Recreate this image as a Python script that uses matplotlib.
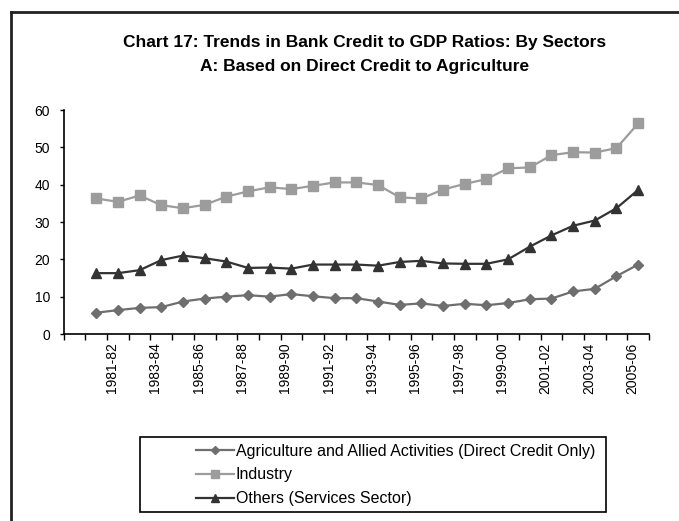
import matplotlib.pyplot as plt
import matplotlib.transforms as mtransforms
from matplotlib.lines import Line2D
from matplotlib.patches import Rectangle
import numpy as np

plt.rcParams['font.family'] = ['Liberation Sans', 'DejaVu Sans']

# categories: one empty slot at the start, then 1980-81 .. 2005-06
years = [f"{y}-{str(y + 1)[-2:]}" for y in range(1980, 2006)]
tick_labels = years[1::2]  # 1981-82, 1983-84, ... 2005-06

agriculture = [5.7, 6.4, 7.0, 7.2, 8.7, 9.5, 10.0, 10.4, 10.0, 10.7, 10.1, 9.6,
               9.6, 8.7, 7.8, 8.2, 7.5, 8.1, 7.7, 8.3, 9.3, 9.5, 11.4, 12.1, 15.5, 18.6]
industry = [36.3, 35.4, 37.1, 34.5, 33.7, 34.6, 36.8, 38.2, 39.3, 38.8, 39.7, 40.6,
            40.6, 39.9, 36.6, 36.3, 38.7, 40.2, 41.5, 44.4, 44.6, 47.9, 48.7, 48.6, 49.8, 56.4]
others = [16.3, 16.3, 17.1, 19.8, 21.0, 20.3, 19.4, 17.7, 17.8, 17.5, 18.6, 18.6,
          18.6, 18.3, 19.3, 19.6, 18.9, 18.8, 18.8, 20.0, 23.4, 26.4, 29.0, 30.4, 33.7, 38.6]

labels = ["Agriculture and Allied Activities (Direct Credit Only)",
          "Industry",
          "Others (Services Sector)"]

W, H = 679, 521
fig = plt.figure(figsize=(W / 100, H / 100), dpi=100)
ax = fig.add_axes([63.8 / W, 1 - 334 / H, (649 - 63.8) / W, (334 - 110) / H])

x = np.arange(1, len(years) + 1)
h1, = ax.plot(x, agriculture, color="#6e6e6e", lw=1.6, marker="D", ms=5,
              mfc="#6e6e6e", mec="#6e6e6e")
h2, = ax.plot(x, industry, color="#9c9c9c", lw=1.6, marker="s", ms=6.5,
              mfc="#9c9c9c", mec="#9c9c9c")
h3, = ax.plot(x, others, color="#333333", lw=1.6, marker="^", ms=7,
              mfc="#333333", mec="#333333")

ax.set_xlim(-0.5, len(years) + 0.5)
ax.set_ylim(0, 60)
ax.set_yticks(range(0, 61, 10))
ax.set_xticks(np.arange(-0.5, len(years) + 1, 1.0), minor=True)
ax.set_xticks(np.arange(2, len(years) + 1, 2))
ax.set_xticklabels(tick_labels, rotation=90)
ax.tick_params(axis="x", which="major", length=0, pad=6, labelsize=10)
ax.tick_params(axis="x", which="minor", length=4, width=1, direction="out")
ax.tick_params(axis="y", length=3, width=1, labelsize=10, pad=7)
shift = mtransforms.ScaledTranslation(-6 / 100, 0, fig.dpi_scale_trans)
for lab in ax.get_xticklabels():
    lab.set_transform(lab.get_transform() + shift)
for s in ("top", "right"):
    ax.spines[s].set_visible(False)
for s in ("left", "bottom"):
    ax.spines[s].set_linewidth(1.2)

fig.text(365 / W, 1 - 42 / H, "Chart 17: Trends in Bank Credit to GDP Ratios: By Sectors",
         ha="center", va="center", fontsize=12.5, fontweight="bold")
fig.text(365 / W, 1 - 66 / H, "A: Based on Direct Credit to Agriculture",
         ha="center", va="center", fontsize=12.5, fontweight="bold")

# legend with its own box
fig.add_artist(Rectangle((140 / W, 1 - 512 / H), (606 - 140) / W, (512 - 437) / H,
                         transform=fig.transFigure, fill=False, ec="black", lw=1.2))
fig.legend([h1, h2, h3], labels, loc="center left",
           bbox_to_anchor=(196 / W, 1 - 475 / H), frameon=False, fontsize=11.5,
           handlelength=2.4, handletextpad=0.1, labelspacing=0.55, borderpad=0,
           borderaxespad=0, markerscale=0.9)

# outer frame (left and top edges)
fig.add_artist(Line2D([11 / W, 11 / W], [0, 1 - 12 / H], transform=fig.transFigure,
                      color="#222222", lw=2))
fig.add_artist(Line2D([11 / W, 1], [1 - 12 / H, 1 - 12 / H], transform=fig.transFigure,
                      color="#222222", lw=2))

fig.savefig("out.png", dpi=100)
